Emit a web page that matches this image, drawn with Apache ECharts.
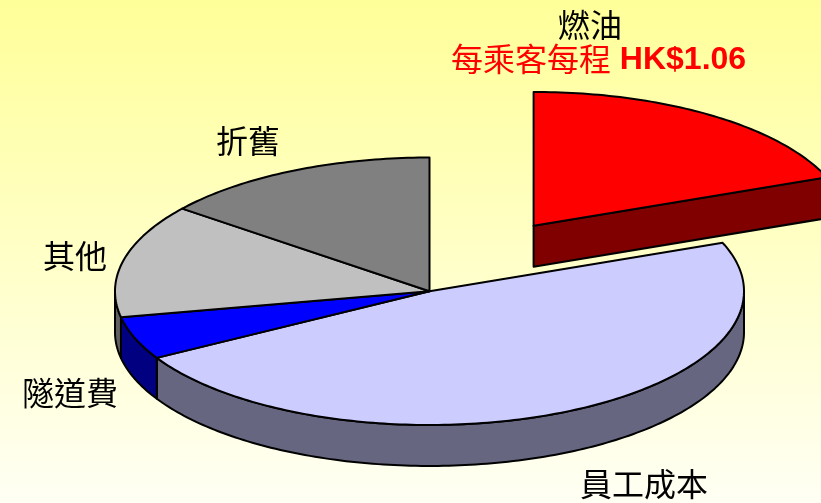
<!DOCTYPE html>
<html>
<head>
<meta charset="utf-8">
<style>html,body{margin:0;padding:0;background:#fff}#c{width:821px;height:503px}</style>
<script src="https://cdn.jsdelivr.net/npm/echarts@6/dist/echarts.min.js"></script>
</head>
<body>
<div id="c"></div>
<script>
const categories = ['燃油', '員工成本', '隧道費', '其他', '折舊'];
const shares = [19.1, 47.6, 5.2, 13.7, 14.4];
const noteText = '每乘客每程';
const noteValue = 'HK$1.06';

const topColors = ['#ff0000', '#ccccff', '#0000ff', '#c0c0c0', '#808080'];
const wallColors = ['#800000', '#666680', '#000080', '#606060', '#404040'];
const explodedIndex = 0;
const explodeX = 0.331, explodeY = 0.49, rimDepth = 0.306;
const total = shares.reduce((a, b) => a + b, 0);

function rim(deg) {
  const t = deg * Math.PI / 180;
  return [Math.sin(t), Math.cos(t)];
}
function arc(a, b) {
  const pts = [], n = Math.max(2, Math.ceil(b - a));
  for (let i = 0; i <= n; i++) pts.push(rim(a + (b - a) * i / n));
  return pts;
}
function renderSlice(params, api) {
  const i = params.dataIndex;
  let before = 0;
  for (let k = 0; k < i; k++) before += shares[k];
  const a = before / total * 360;
  const b = (before + api.value(0)) / total * 360;
  const dx = i === explodedIndex ? explodeX : 0;
  const dy = i === explodedIndex ? explodeY : 0;
  const px = (p, drop) => api.coord([p[0] + dx, p[1] + dy - (drop ? rimDepth : 0)]);
  const stroke = { stroke: '#000', lineWidth: 2, lineJoin: 'round' };
  const children = [];
  const wa = Math.max(a, 90), wb = Math.min(b, 270);
  if (wb > wa) {
    const r = arc(wa, wb);
    children.push({
      type: 'polygon',
      shape: { points: r.map(p => px(p, false)).concat(r.slice().reverse().map(p => px(p, true))) },
      style: Object.assign({ fill: wallColors[i] }, stroke)
    });
  }
  if (i === explodedIndex) {
    const e = rim(b);
    children.push({
      type: 'polygon',
      shape: { points: [px([0, 0], false), px(e, false), px(e, true), px([0, 0], true)] },
      style: Object.assign({ fill: wallColors[i] }, stroke)
    });
  }
  children.push({
    type: 'polygon',
    shape: { points: [px([0, 0], false)].concat(arc(a, b).map(p => px(p, false))) },
    style: Object.assign({ fill: topColors[i] }, stroke)
  });
  return { type: 'group', children };
}

const cjk = '"Noto Sans CJK TC"';
function label(name, x, y) {
  return {
    type: 'text', x, y,
    style: { text: name, fill: '#000', font: '32px ' + cjk, textAlign: 'center', textVerticalAlign: 'middle' }
  };
}
const chart = echarts.init(document.getElementById('c'), null, { renderer: 'canvas' });
chart.setOption({
  animation: false,
  backgroundColor: {
    type: 'linear', x: 0, y: 0, x2: 0, y2: 1,
    colorStops: [{ offset: 0, color: '#ffff99' }, { offset: 1, color: '#fffff4' }]
  },
  grid: { left: 115, width: 629, top: 157.5, height: 267.5 },
  xAxis: { type: 'value', min: -1, max: 1, show: false },
  yAxis: { type: 'value', min: -1, max: 1, show: false },
  series: [{
    type: 'custom',
    coordinateSystem: 'cartesian2d',
    renderItem: renderSlice,
    data: shares.map(v => [v]),
    encode: { x: [], y: [] },
    silent: true
  }],
  graphic: [
    label(categories[0], 590, 25),
    label(categories[1], 644, 484),
    label(categories[2], 70, 393),
    label(categories[3], 75, 256),
    label(categories[4], 248, 141),
    { type: 'text', x: 531, y: 59, style: { text: noteText, fill: '#ff0000', font: '32px ' + cjk, textAlign: 'center', textVerticalAlign: 'middle' } },
    { type: 'text', x: 683, y: 60, style: { text: noteValue, fill: '#ff0000', font: 'bold 32px "Liberation Sans"', textAlign: 'center', textVerticalAlign: 'middle' } }
  ]
});
</script>
</body>
</html>
